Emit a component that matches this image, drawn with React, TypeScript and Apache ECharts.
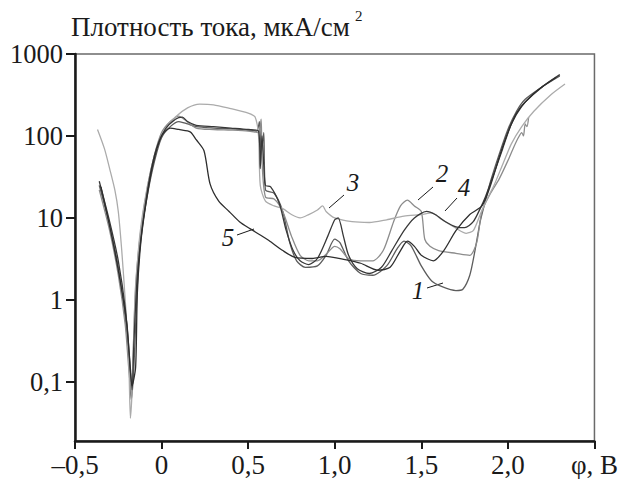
import React, { useEffect, useRef } from "react";
import * as echarts from "echarts";

// Potential (V) vs current density (µA/cm²)
const curve1: [number, number][] = [
  [-0.36, 25], [-0.3, 8], [-0.25, 2.5], [-0.21, 0.6], [-0.19, 0.2], [-0.175, 0.06], [-0.16, 0.15],
  [-0.14, 1.5], [-0.12, 6], [-0.08, 20], [-0.04, 50], [0, 95], [0.05, 130], [0.1, 150], [0.15, 140],
  [0.2, 130], [0.3, 125], [0.4, 122], [0.5, 118], [0.55, 115], [0.565, 150], [0.575, 60], [0.59, 110],
  [0.6, 22], [0.65, 20], [0.7, 12], [0.74, 5], [0.78, 3], [0.83, 2.5], [0.9, 2.6], [0.95, 3.5],
  [1.0, 5.5], [1.03, 5], [1.08, 3], [1.15, 2.1], [1.22, 2.0], [1.3, 2.6], [1.36, 4.2], [1.4, 5.2],
  [1.44, 4.6], [1.5, 2.6], [1.56, 1.7], [1.62, 1.45], [1.7, 1.3], [1.74, 1.35], [1.78, 2], [1.81, 4],
  [1.84, 9], [1.87, 16], [1.9, 28], [1.95, 60], [2.0, 120], [2.05, 200], [2.1, 280], [2.2, 400], [2.3, 540],
];
const curve2: [number, number][] = [
  [-0.36, 22], [-0.3, 7], [-0.25, 2], [-0.21, 0.5], [-0.19, 0.15], [-0.175, 0.07], [-0.165, 0.2],
  [-0.15, 1.5], [-0.12, 7], [-0.08, 25], [-0.04, 60], [0, 110], [0.05, 150], [0.1, 175], [0.13, 160],
  [0.2, 125], [0.3, 120], [0.4, 118], [0.5, 115], [0.56, 110], [0.575, 160], [0.58, 50], [0.6, 18],
  [0.65, 17], [0.7, 12], [0.75, 6], [0.8, 3.5], [0.85, 3], [0.9, 3], [0.95, 3.6], [1.0, 4.5],
  [1.03, 4.2], [1.08, 3.2], [1.15, 3], [1.22, 3], [1.28, 4], [1.34, 9], [1.38, 14], [1.42, 16.5],
  [1.46, 14], [1.5, 12], [1.52, 5.5], [1.55, 4.5], [1.6, 4], [1.7, 3.7], [1.78, 3.5], [1.82, 5],
  [1.85, 12], [1.9, 20], [1.95, 30], [2.0, 50], [2.03, 70], [2.06, 95], [2.08, 110], [2.09, 100],
  [2.1, 140], [2.11, 130], [2.12, 170],
];
const curve3: [number, number][] = [
  [-0.37, 120], [-0.33, 70], [-0.3, 40], [-0.27, 22], [-0.25, 12], [-0.23, 4], [-0.21, 1],
  [-0.19, 0.2], [-0.18, 0.036], [-0.17, 0.08], [-0.155, 0.8], [-0.13, 5], [-0.1, 15], [-0.06, 40],
  [-0.02, 80], [0.02, 120], [0.08, 170], [0.15, 220], [0.22, 245], [0.3, 240], [0.4, 215], [0.5, 190],
  [0.54, 170], [0.56, 100], [0.57, 25], [0.6, 16], [0.65, 14], [0.7, 13], [0.75, 11], [0.8, 10],
  [0.85, 11], [0.9, 12.5], [0.93, 14], [0.95, 12], [1.0, 10], [1.1, 9], [1.2, 8.8], [1.3, 9.5],
  [1.4, 10.5], [1.5, 11], [1.56, 11.5], [1.62, 9.5], [1.7, 7.5], [1.76, 6.5], [1.8, 7], [1.84, 11],
  [1.88, 17], [1.92, 25], [1.97, 45], [2.02, 80], [2.08, 130], [2.15, 200], [2.25, 320], [2.33, 430],
];
const curve4: [number, number][] = [
  [-0.36, 28], [-0.3, 9], [-0.25, 3], [-0.21, 0.8], [-0.185, 0.2], [-0.17, 0.08], [-0.16, 0.3],
  [-0.14, 2], [-0.11, 8], [-0.07, 30], [-0.03, 70], [0.02, 120], [0.08, 160], [0.12, 170], [0.15, 150],
  [0.2, 135], [0.3, 130], [0.4, 125], [0.5, 120], [0.56, 115], [0.57, 40], [0.58, 100], [0.59, 45],
  [0.6, 25], [0.63, 24], [0.68, 15], [0.72, 7], [0.76, 4], [0.8, 3], [0.85, 2.7], [0.9, 3.2],
  [0.96, 6], [1.0, 9.5], [1.02, 10], [1.05, 6], [1.08, 3.5], [1.13, 2.4], [1.2, 2.1], [1.27, 2.5],
  [1.33, 4], [1.4, 7], [1.46, 10], [1.53, 12], [1.58, 11], [1.64, 9], [1.7, 7.8], [1.75, 7.6],
  [1.8, 9], [1.84, 13], [1.87, 18], [1.92, 35], [1.97, 70], [2.02, 140], [2.08, 230], [2.15, 330],
  [2.22, 430], [2.3, 560],
];
const curve5: [number, number][] = [
  [-0.35, 24], [-0.3, 8], [-0.25, 2.3], [-0.2, 0.5], [-0.17, 0.09], [-0.15, 0.15], [-0.14, 1.2],
  [-0.12, 5], [-0.09, 15], [-0.05, 45], [0, 100], [0.05, 125], [0.1, 120], [0.15, 115], [0.17, 110],
  [0.2, 90], [0.245, 66], [0.28, 26], [0.33, 16], [0.39, 12], [0.45, 9], [0.51, 7.4], [0.57, 6.2],
  [0.62, 5.3], [0.7, 4], [0.77, 3.3], [0.87, 3.2], [0.95, 3.4], [1.06, 3.1], [1.15, 2.8], [1.25, 2.3],
  [1.32, 2.5], [1.38, 4], [1.42, 5.2], [1.46, 4.5], [1.5, 3.5], [1.57, 3], [1.63, 4], [1.7, 7],
  [1.78, 11], [1.85, 14], [1.9, 25], [1.95, 55], [2.0, 110], [2.05, 190], [2.1, 260], [2.2, 400],
  [2.28, 520],
];

const curveNames = ["1", "2", "3", "4", "5"];
const curveColors = ["#5c5c5c", "#8c8c8c", "#ababab", "#383838", "#2e2e2e"];
const xTicks = [-0.5, 0, 0.5, 1.0, 1.5, 2.0, 2.5];
const xTickLabels = ["–0,5", "0", "0,5", "1,0", "1,5", "2,0", "φ, В"];
const yTicks = [0.1, 1, 10, 100, 1000];
const yTickLabels = ["0,1", "1", "10", "100", "1000"];

// Curve annotations: label text position and leader line (pixels)
const annotations = [
  { text: "1", x: 418, y: 290, line: [[427, 288], [443, 283]] },
  { text: "2", x: 442, y: 173, line: [[433, 187], [418, 200]] },
  { text: "3", x: 353, y: 182, line: [[344, 195], [329, 208]] },
  { text: "4", x: 464, y: 187, line: [[457, 198], [445, 211]] },
  { text: "5", x: 228, y: 237, line: [[237, 235], [254, 229]] },
];

const FONT = "Liberation Serif";

export default function App() {
  const ref = useRef<HTMLDivElement>(null);
  useEffect(() => {
    if (!ref.current) return;
    const chart = echarts.init(ref.current, undefined, { renderer: "svg" });
    const curves = [curve1, curve2, curve3, curve4, curve5];
    const graphic: any[] = [
      {
        type: "text",
        left: 71,
        top: 13,
        style: {
          text: "Плотность тока, мкА/см",
          fontFamily: FONT,
          fontSize: 27,
          fill: "#1a1a1a",
        },
      },
      {
        type: "text",
        left: 355,
        top: 8,
        style: { text: "2", fontFamily: FONT, fontSize: 15, fill: "#1a1a1a" },
      },
    ];
    annotations.forEach((a) => {
      graphic.push({
        type: "text",
        x: a.x,
        y: a.y,
        style: {
          text: a.text,
          fontFamily: FONT,
          fontStyle: "italic",
          fontSize: 25,
          fill: "#1a1a1a",
          align: "center",
          verticalAlign: "middle",
        },
      });
      graphic.push({
        type: "line",
        shape: { x1: a.line[0][0], y1: a.line[0][1], x2: a.line[1][0], y2: a.line[1][1] },
        style: { stroke: "#1a1a1a", lineWidth: 1 },
      });
    });

    chart.setOption({
      animation: false,
      grid: {
        left: 75,
        right: 17,
        top: 54,
        bottom: 38,
        show: true,
        borderColor: "#6a6a6a",
        borderWidth: 1.5,
      },
      xAxis: {
        type: "value",
        min: -0.5,
        max: 2.5,
        interval: 0.5,
        splitLine: { show: false },
        axisLine: { show: true, onZero: false, lineStyle: { color: "#1a1a1a", width: 2.5 } },
        axisTick: { show: true, length: 8, lineStyle: { color: "#1a1a1a", width: 2 } },
        axisLabel: {
          margin: 10,
          color: "#1a1a1a",
          fontFamily: FONT,
          fontSize: 27,
          formatter: (v: number) => {
            const i = xTicks.findIndex((t) => Math.abs(t - v) < 1e-6);
            return i >= 0 ? xTickLabels[i] : "";
          },
        },
      },
      yAxis: {
        type: "log",
        logBase: 10,
        min: 0.019,
        max: 1000,
        splitLine: { show: false },
        axisLine: { show: true, onZero: false, lineStyle: { color: "#1a1a1a", width: 2.5 } },
        axisTick: { show: true, length: 9, lineStyle: { color: "#1a1a1a", width: 2 } },
        axisLabel: {
          margin: 12,
          color: "#1a1a1a",
          fontFamily: FONT,
          fontSize: 26.5,
          showMinLabel: false,
          formatter: (v: number) => {
            const i = yTicks.findIndex((t) => Math.abs(Math.log10(t) - Math.log10(v)) < 1e-6);
            return i >= 0 ? yTickLabels[i] : "";
          },
        },
      },
      series: curves.map((c, i) => ({
        name: curveNames[i],
        type: "line",
        data: c,
        showSymbol: false,
        symbol: "none",
        smooth: 0.25,
        lineStyle: { color: curveColors[i], width: 1.3 },
        z: 2 + i,
      })),
      graphic,
    });
    return () => chart.dispose();
  }, []);
  return <div ref={ref} style={{ width: 621, height: 479, position: "absolute", left: 0, top: 0 }} />;
}
